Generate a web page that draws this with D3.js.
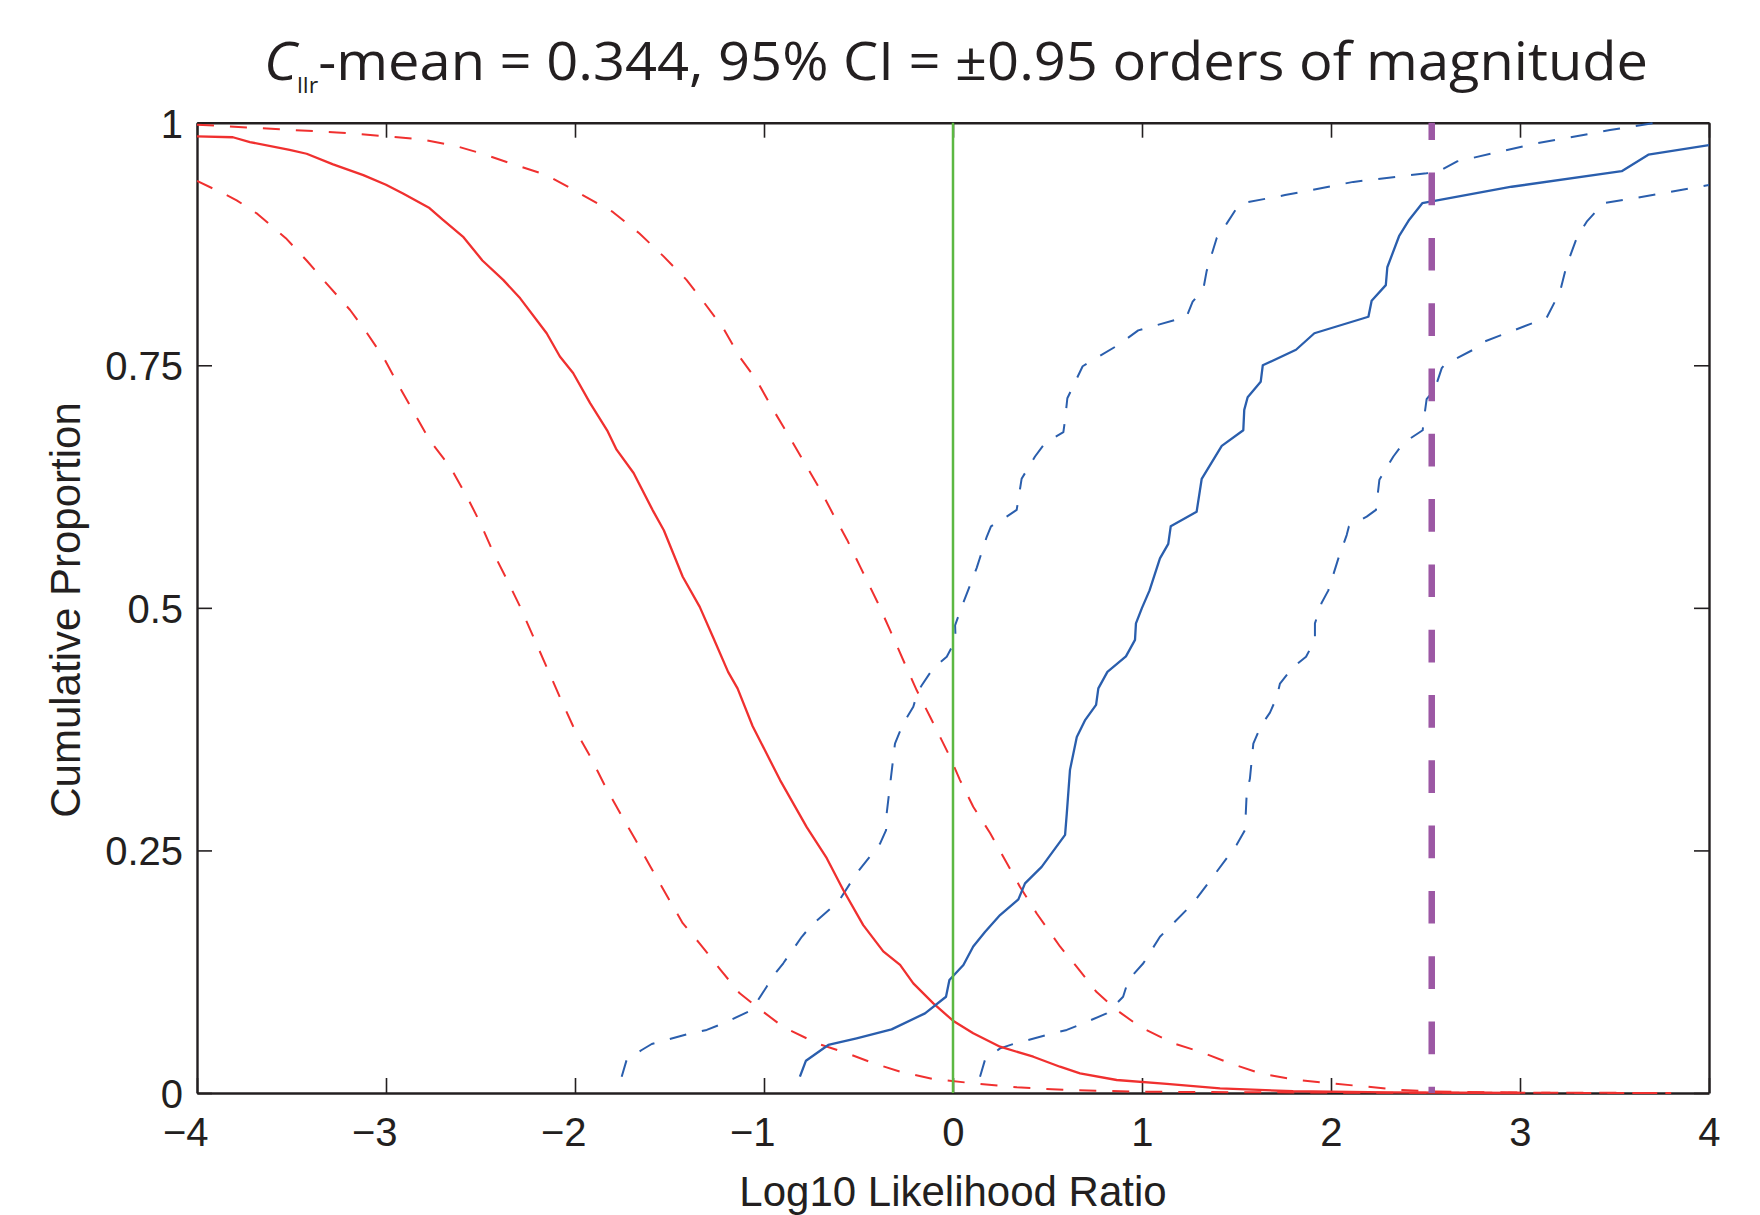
<!DOCTYPE html>
<html>
<head>
<meta charset="utf-8">
<script src="https://cdn.jsdelivr.net/npm/d3@7"></script>
<style>
  body { margin: 0; background: #fff; }
  svg { display: block; }
</style>
</head>
<body>
<div id="chart"></div>
<script>
// tick values
const xTicks = [-4, -3, -2, -1, 0, 1, 2, 3, 4]
const yTicks = [0, 0.25, 0.5, 0.75, 1]
const yTickLabels = ["0", "0.25", "0.5", "0.75", "1"]

// different-source curves (red): [log10 LR, cumulative proportion]
const diffMean = [[-4,0.986],[-3.81,0.985],[-3.72,0.98],[-3.51,0.972],[-3.42,0.968],[-3.28,0.957],[-3.12,0.946],[-3.0,0.936],[-2.91,0.927],[-2.77,0.912],[-2.7,0.9],[-2.59,0.882],[-2.49,0.858],[-2.38,0.838],[-2.29,0.819],[-2.15,0.783],[-2.08,0.759],[-2.01,0.742],[-1.92,0.711],[-1.83,0.683],[-1.78,0.663],[-1.69,0.639],[-1.59,0.601],[-1.53,0.58],[-1.43,0.532],[-1.34,0.501],[-1.27,0.47],[-1.19,0.434],[-1.14,0.417],[-1.06,0.378],[-0.915,0.3225],[-0.774,0.274],[-0.668,0.242],[-0.58,0.209],[-0.475,0.173],[-0.369,0.146],[-0.28,0.132],[-0.21,0.113],[-0.104,0.0924],[0,0.0745],[0.107,0.0615],[0.249,0.0477],[0.425,0.0374],[0.566,0.0271],[0.672,0.0203],[0.866,0.0134],[1.131,0.0093],[1.413,0.0048],[1.8,0.0018],[2.3,0.0006],[3.0,0]]
const diffLower = [[-4,0.94],[-3.86,0.927],[-3.79,0.92],[-3.68,0.906],[-3.53,0.881],[-3.42,0.858],[-3.3,0.831],[-3.19,0.807],[-3.1,0.783],[-3.01,0.757],[-2.93,0.728],[-2.86,0.704],[-2.77,0.673],[-2.66,0.645],[-2.57,0.614],[-2.5,0.587],[-2.43,0.556],[-2.36,0.529],[-2.29,0.501],[-2.22,0.47],[-2.15,0.439],[-2.08,0.408],[-2.01,0.378],[-1.92,0.347],[-1.84,0.316],[-1.76,0.288],[-1.68,0.261],[-1.6,0.233],[-1.51,0.202],[-1.43,0.175],[-1.34,0.154],[-1.23,0.127],[-1.13,0.103],[-1.04,0.089],[-0.9,0.0683],[-0.72,0.0512],[-0.56,0.0409],[-0.42,0.0306],[-0.28,0.022],[-0.104,0.0144],[0.107,0.01],[0.337,0.0059],[0.6,0.0031],[1.0,0.0013],[2.0,0.0004],[3.8,0]]
const diffUpper = [[-4,0.998],[-3.63,0.994],[-3.26,0.99],[-3.0,0.986],[-2.82,0.983],[-2.63,0.976],[-2.49,0.968],[-2.34,0.958],[-2.15,0.946],[-2.01,0.931],[-1.8,0.908],[-1.66,0.886],[-1.53,0.862],[-1.41,0.838],[-1.33,0.818],[-1.215,0.788],[-1.13,0.759],[-1.04,0.735],[-0.96,0.707],[-0.88,0.681],[-0.79,0.651],[-0.7,0.621],[-0.633,0.596],[-0.56,0.57],[-0.49,0.542],[-0.4,0.506],[-0.333,0.477],[-0.263,0.446],[-0.192,0.415],[-0.122,0.388],[-0.025,0.35],[0.037,0.3225],[0.107,0.295],[0.196,0.268],[0.266,0.2435],[0.354,0.2126],[0.443,0.185],[0.566,0.151],[0.655,0.13],[0.76,0.104],[0.866,0.0855],[0.989,0.0683],[1.166,0.0512],[1.307,0.0426],[1.466,0.0306],[1.624,0.0203],[1.82,0.0134],[1.995,0.01],[2.19,0.0065],[2.365,0.0031],[2.54,0.0015],[3.0,0.0004],[3.8,0]]

// same-source curves (blue)
const sameMean = [[-0.81,0.0168],[-0.778,0.0333],[-0.66,0.0495],[-0.51,0.0564],[-0.325,0.0656],[-0.148,0.0821],[-0.037,0.0992],[-0.019,0.1164],[0.055,0.1319],[0.107,0.151],[0.169,0.166],[0.249,0.1834],[0.346,0.1996],[0.381,0.216],[0.469,0.233],[0.593,0.266],[0.602,0.288],[0.619,0.333],[0.655,0.367],[0.698,0.384],[0.757,0.4],[0.769,0.417],[0.817,0.434],[0.915,0.45],[0.963,0.467],[0.968,0.484],[1.0,0.5],[1.04,0.518],[1.095,0.551],[1.139,0.566],[1.152,0.584],[1.289,0.599],[1.316,0.633],[1.422,0.667],[1.536,0.683],[1.541,0.704],[1.559,0.717],[1.628,0.733],[1.639,0.75],[1.815,0.766],[1.912,0.783],[2.198,0.8],[2.215,0.8165],[2.29,0.8326],[2.298,0.851],[2.36,0.883],[2.414,0.9],[2.483,0.917],[2.956,0.934],[3.538,0.95],[3.679,0.967],[4.0,0.977]]
const sameLower = [[0.143,0.0168],[0.169,0.034],[0.249,0.046],[0.319,0.0505],[0.496,0.0598],[0.602,0.065],[0.69,0.0718],[0.813,0.0821],[0.857,0.0907],[0.9,0.0992],[0.928,0.1164],[1.007,0.1337],[1.095,0.161],[1.166,0.175],[1.27,0.1955],[1.395,0.228],[1.5,0.2556],[1.545,0.271],[1.554,0.309],[1.571,0.324],[1.589,0.36],[1.628,0.378],[1.677,0.392],[1.713,0.408],[1.73,0.422],[1.8,0.439],[1.868,0.4496],[1.915,0.467],[1.915,0.484],[1.95,0.505],[1.986,0.518],[2.039,0.551],[2.083,0.575],[2.095,0.584],[2.189,0.594],[2.238,0.601],[2.256,0.632],[2.33,0.656],[2.383,0.67],[2.485,0.683],[2.492,0.695],[2.506,0.715],[2.55,0.726],[2.586,0.747],[2.603,0.751],[2.762,0.767],[2.806,0.774],[3.141,0.799],[3.212,0.826],[3.247,0.853],[3.3,0.881],[3.353,0.898],[3.441,0.917],[3.6,0.922],[4.0,0.9357]]
const sameUpper = [[-1.753,0.0168],[-1.727,0.034],[-1.647,0.0443],[-1.594,0.0505],[-1.39,0.0615],[-1.303,0.065],[-1.215,0.0718],[-1.083,0.0838],[-1.048,0.0907],[-0.986,0.1095],[-0.968,0.1164],[-0.898,0.1337],[-0.8,0.161],[-0.748,0.173],[-0.607,0.197],[-0.51,0.2264],[-0.386,0.257],[-0.354,0.271],[-0.351,0.288],[-0.33,0.3225],[-0.307,0.36],[-0.263,0.381],[-0.21,0.398],[-0.189,0.412],[-0.166,0.42],[-0.104,0.438],[-0.033,0.4496],[0.014,0.467],[0.011,0.482],[0.05,0.503],[0.125,0.541],[0.178,0.573],[0.201,0.584],[0.284,0.594],[0.337,0.601],[0.363,0.633],[0.434,0.656],[0.487,0.67],[0.584,0.681],[0.593,0.694],[0.605,0.716],[0.686,0.749],[0.875,0.771],[0.98,0.786],[1.236,0.8],[1.268,0.8155],[1.325,0.829],[1.342,0.847],[1.395,0.881],[1.448,0.896],[1.504,0.913],[1.545,0.9176],[1.757,0.9254],[2.118,0.939],[2.506,0.948],[2.577,0.9505],[2.665,0.96],[3.088,0.9787],[3.476,0.9924],[3.723,1.0]]

const zeroLLR = 0
const markerLLR = 2.533

const W = 1760, H = 1215
const svg = d3.select('#chart').append('svg').attr('width', W).attr('height', H)

const scaleX = d3.scaleLinear().domain([-4, 4]).range([197, 1709])
const scaleY = d3.scaleLinear().domain([0, 1]).range([1093, 122.7])

const axisColor = '#231f20'
const tickFont = '"Liberation Sans", Arial, Helvetica, sans-serif'

// axes (ticks pointing inwards on all four sides)
const axisB = d3.axisBottom(scaleX).tickValues(xTicks).tickSizeInner(-15).tickSizeOuter(0).tickPadding(25)
const axisT = d3.axisTop(scaleX).tickValues(xTicks).tickSizeInner(-15).tickSizeOuter(0).tickFormat('')
const axisL = d3.axisLeft(scaleY).tickValues(yTicks).tickSizeInner(-15).tickSizeOuter(0).tickPadding(14)
  .tickFormat((d, i) => yTickLabels[i])
const axisR = d3.axisRight(scaleY).tickValues(yTicks).tickSizeInner(-15).tickSizeOuter(0).tickFormat('')

const gB = svg.append('g').attr('transform', 'translate(0,1093)').call(axisB)
svg.append('g').attr('transform', 'translate(0,122.7)').call(axisT)
const gL = svg.append('g').attr('transform', 'translate(197,0)').call(axisL)
svg.append('g').attr('transform', 'translate(1709,0)').call(axisR)

svg.selectAll('.domain').attr('stroke', axisColor).attr('stroke-width', 2.4)
svg.selectAll('.tick line').attr('stroke', axisColor).attr('stroke-width', 1.6)
svg.selectAll('.tick text').attr('fill', '#231f20').style('font-family', tickFont).style('font-size', '40px')
// digit centred on the tick, minus sign hanging to the left
gB.selectAll('.tick text').attr('text-anchor', 'end').attr('x', 11.1)
gL.selectAll('.tick text').attr('dy', '0.36em')

// curves
const plot = svg.append('g')
svg.append('clipPath').attr('id', 'clip').append('rect')
  .attr('x', 197).attr('y', 121).attr('width', 1512).attr('height', 974)
plot.attr('clip-path', 'url(#clip)')

const lineFunc = d3.line().x((d) => scaleX(d[0])).y((d) => scaleY(d[1]))
const red = '#f0302f', blue = '#2a5ead'
const series = [
  { data: diffLower, color: red, dash: '17 16', width: 2 },
  { data: diffUpper, color: red, dash: '17 16', width: 2 },
  { data: sameUpper, color: blue, dash: '17 16', width: 2 },
  { data: sameLower, color: blue, dash: '17 16', width: 2 },
  { data: diffMean, color: red, dash: null, width: 2.3 },
  { data: sameMean, color: blue, dash: null, width: 2.3 }
]
series.forEach((s) => {
  plot.append('path').attr('d', lineFunc(s.data))
    .attr('fill', 'none').attr('stroke', s.color).attr('stroke-width', s.width)
    .attr('stroke-dasharray', s.dash).attr('stroke-linejoin', 'round')
})

// vertical reference lines
plot.append('line')
  .attr('x1', scaleX(zeroLLR)).attr('x2', scaleX(zeroLLR))
  .attr('y1', scaleY(1)).attr('y2', scaleY(0))
  .attr('stroke', '#5cb842').attr('stroke-width', 2.5)
plot.append('line')
  .attr('x1', scaleX(markerLLR)).attr('x2', scaleX(markerLLR))
  .attr('y1', scaleY(1)).attr('y2', scaleY(0))
  .attr('stroke', '#9c58a4').attr('stroke-width', 6.5)
  .attr('stroke-dasharray', '32.7 32.6').attr('stroke-dashoffset', 15.4)

// labels
svg.append('text').attr('x', 953).attr('y', 1206).attr('text-anchor', 'middle')
  .style('font-family', tickFont).style('font-size', '42px').attr('fill', '#231f20')
  .text('Log10 Likelihood Ratio')
svg.append('text').attr('transform', 'translate(80,610) rotate(-90)').attr('text-anchor', 'middle')
  .style('font-family', tickFont).style('font-size', '42px').attr('fill', '#231f20')
  .text('Cumulative Proportion')

const title = svg.append('text').attr('x', 956).attr('y', 80).attr('text-anchor', 'middle')
  .style('font-family', '"Open Sans", sans-serif').style('font-size', '53px').attr('fill', '#231f20')
  .attr('textLength', 1384).attr('lengthAdjust', 'spacingAndGlyphs')
title.append('tspan').style('font-style', 'italic').text('C')
title.append('tspan').style('font-size', '22px').attr('dy', 13).text('llr')
title.append('tspan').attr('dy', -13).text('-mean = 0.344, 95% CI = ±0.95 orders of magnitude')
</script>
</body>
</html>
